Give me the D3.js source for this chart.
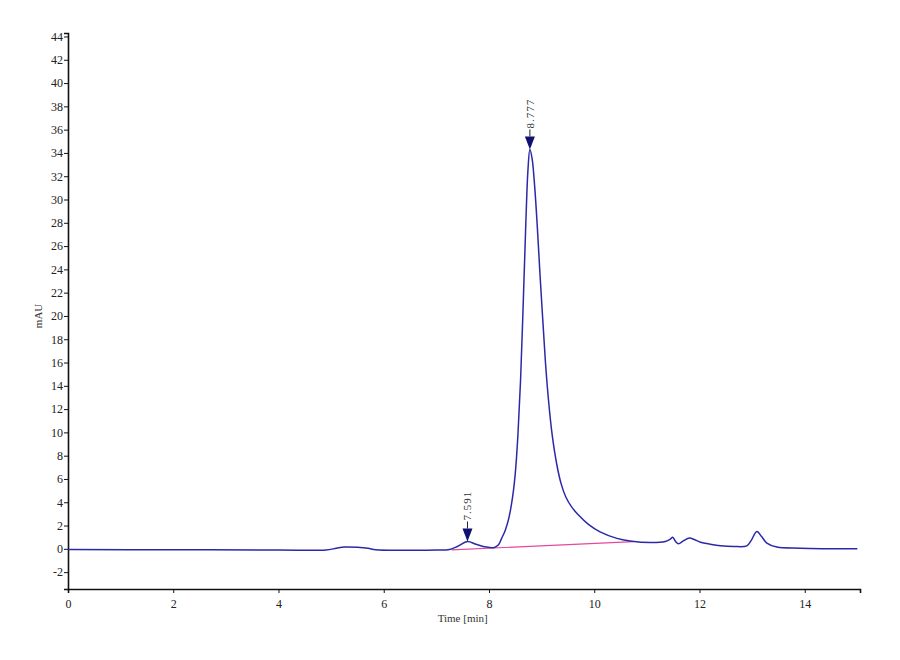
<!DOCTYPE html>
<html>
<head>
<meta charset="utf-8">
<script src="https://cdn.jsdelivr.net/npm/d3@7"></script>
<style>
  body { margin: 0; background: #ffffff; }
  .axis path, .axis line { stroke: #111; }
  .axis text { font-family: "Liberation Serif", "DejaVu Serif", serif; font-size: 12px; fill: #222; }
  .lbl { font-family: "Liberation Serif", "DejaVu Serif", serif; font-size: 11px; fill: #333; }
</style>
</head>
<body>
<div id="graf"></div>
<script>
const tiempos = [0, 2, 4, 4.9, 5.1, 5.25, 5.5, 5.7, 5.85, 6.5, 7.0, 7.25, 7.4, 7.591, 7.75, 7.95, 8.1,
  8.18, 8.24, 8.31, 8.38, 8.45, 8.5, 8.55, 8.6, 8.65, 8.7, 8.74, 8.777,
  8.82, 8.87, 8.92, 8.97, 9.02, 9.07, 9.13, 9.2, 9.29, 9.37, 9.46, 9.57, 9.7, 9.89, 10.11,
  10.43, 10.68, 11.06, 11.35, 11.45, 11.49, 11.55, 11.6, 11.7, 11.81, 11.9, 12.02, 12.2,
  12.4, 12.65, 12.9, 12.98, 13.09, 13.18, 13.28, 13.47, 13.92, 15.0]
const senal = [-0.05, -0.08, -0.1, -0.1, 0.05, 0.15, 0.13, 0.05, -0.08, -0.12, -0.1, -0.05, 0.2, 0.63, 0.4, 0.15, 0.12,
  0.35, 0.9, 1.6, 2.7, 4.5, 6.5, 9.8, 14.5, 21, 28, 32.5, 34.3,
  33.5, 31, 27.5, 23.5, 19.8, 16.2, 12.8, 9.8, 7.2, 5.6, 4.45, 3.6, 2.9, 2.1, 1.45,
  0.9, 0.68, 0.54, 0.63, 0.85, 1.0, 0.6, 0.43, 0.7, 0.92, 0.8, 0.57, 0.4,
  0.26, 0.2, 0.26, 0.7, 1.49, 1.05, 0.49, 0.15, 0.06, 0.0]

// linea base de integracion
const baseT = [7.29, 10.75]
const baseV = [-0.09, 0.62]

// picos marcados
const picosT = [7.591, 8.777]
const picosV = [0.63, 34.3]
const picosTxt = ["7.591", "8.777"]

const xTicks = [0, 2, 4, 6, 8, 10, 12, 14]
const yTicks = d3.range(-2, 46, 2)

const anchoTotal = 900
const altoTotal = 660
const margins = { top: 33, right: 40, bottom: 71, left: 68 }
const ancho = anchoTotal - margins.left - margins.right
const alto = altoTotal - margins.top - margins.bottom

const svg = d3.select("#graf")
  .append("svg")
  .attr("width", anchoTotal)
  .attr("height", altoTotal)

const g = svg.append("g")
  .attr("transform", `translate(${margins.left}, ${margins.top})`)

// escaladores
const x = d3.scaleLinear().domain([0, 15.05]).range([0, ancho])
const y = d3.scaleLinear().domain([-3.45, 44.3]).range([alto, 0])

// ejes
const xAxis = d3.axisBottom(x).tickValues(xTicks).tickSize(4).tickPadding(6).tickFormat(d => d)
g.append("g")
  .attr("transform", `translate(0, ${alto})`)
  .classed("axis", true)
  .call(xAxis)
  .call(a => a.select(".domain").attr("stroke-width", 1.6))

const yAxis = d3.axisLeft(y).tickValues(yTicks).tickSize(4).tickPadding(1).tickFormat(d => d.toString())
g.append("g")
  .classed("axis", true)
  .call(yAxis)
  .call(a => a.select(".domain").attr("stroke-width", 1.6))

// titulos de ejes
g.append("text")
  .attr("class", "lbl")
  .attr("x", x(7.5))
  .attr("y", alto + 33)
  .attr("text-anchor", "middle")
  .text("Time [min]")

g.append("text")
  .attr("class", "lbl")
  .attr("transform", `translate(${-26}, ${y(20)}) rotate(-90)`)
  .attr("text-anchor", "middle")
  .text("mAU")

// linea base (rosa)
const base = d3.zip(baseT, baseV)
g.append("path")
  .datum(base)
  .attr("fill", "none")
  .attr("stroke", "#e5489c")
  .attr("stroke-width", 1.2)
  .attr("d", d3.line().x(d => x(d[0])).y(d => y(d[1])))

// cromatograma
const datos = d3.zip(tiempos, senal)
g.append("path")
  .datum(datos)
  .attr("fill", "none")
  .attr("stroke", "#2a2aa8")
  .attr("stroke-width", 1.5)
  .attr("d", d3.line().x(d => x(d[0])).y(d => y(d[1])).curve(d3.curveCatmullRom.alpha(0.5)))

// marcadores de picos
const picos = g.selectAll(".pico")
  .data(d3.zip(picosT, picosV, picosTxt))
  .enter()
  .append("g")
  .attr("class", "pico")
  .attr("transform", d => `translate(${x(d[0])}, ${y(d[1])})`)

picos.append("line")
  .attr("x1", 0).attr("x2", 0)
  .attr("y1", -13).attr("y2", -20)
  .attr("stroke", "#222")
  .attr("stroke-width", 1)

picos.append("path")
  .attr("d", "M0,0 L-5,-13 L5,-13 Z")
  .attr("fill", "#101070")

picos.append("text")
  .attr("class", "lbl")
  .attr("transform", "translate(4, -21) rotate(-90)")
  .attr("letter-spacing", 1)
  .text(d => d[2])
</script>
</body>
</html>
